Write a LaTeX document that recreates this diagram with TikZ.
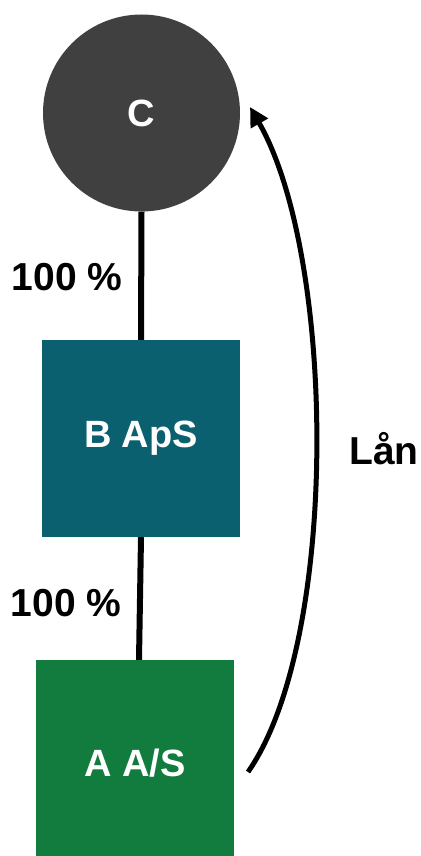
\documentclass[tikz,border=0pt]{standalone}
\usepackage{fontspec}
\setmainfont{Liberation Sans}
\usetikzlibrary{arrows.meta}
\definecolor{cgray}{HTML}{404040}
\definecolor{bteal}{HTML}{0B6070}
\definecolor{agreen}{HTML}{127B3E}
\begin{document}
\begin{tikzpicture}[x=1pt,y=-1pt,
  lbl/.style={font=\fontsize{39}{44}\selectfont\bfseries, text=black},
  inlbl/.style={font=\fontsize{38}{44}\selectfont\bfseries, text=white},
  owner/.style={line width=6pt, black},
  loan/.style={line width=5pt, black, -{Triangle[length=19pt,width=19pt]}},
  entity/.style={minimum width=198pt, minimum height=197pt, inner sep=0pt}]
\useasboundingbox (0,0) rectangle (420,856);
\node[circle, fill=cgray, minimum size=197pt, inner sep=0pt, inlbl] (C) at (141.5,113) {C};
\node[entity, fill=bteal, inlbl] (B) at (141,438.5) {B ApS};
\node[entity, fill=agreen, inlbl, minimum height=200pt] (A) at (135,760) {};
\node[inlbl] (At) at (135,763) {A A/S};
\draw[owner] (C.south) -- (B.north);
\draw[owner] (B.south) -- ([xshift=4pt]A.north);
\node[lbl] (p1) at (67,277) {100 \%};
\node[lbl] (p2) at (66,603) {100 \%};
\node[lbl, anchor=west, inner sep=0pt] (lan) at (349,449) {Lån};
\coordinate (ls) at (248,772);
\coordinate (le) at (250,107);
\draw[loan] (ls) .. controls +(92,-132) and +(86,150) .. (le);
\end{tikzpicture}
\end{document}
